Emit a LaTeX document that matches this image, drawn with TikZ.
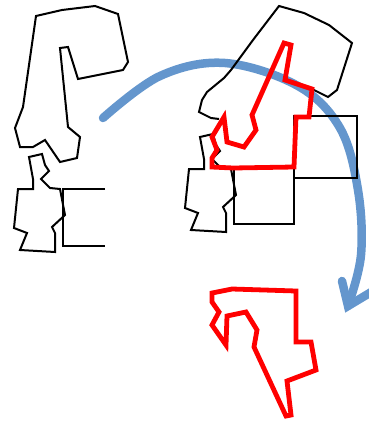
\documentclass[tikz,border=0pt]{standalone}
\definecolor{arcblue}{RGB}{100,150,205}
\definecolor{mapred}{RGB}{255,0,0}
\tikzset{
  mapline/.style={draw=black,line width=2pt,line join=miter},
  redline/.style={draw=mapred,line width=4.8pt,line join=miter,miter limit=4},
  bluearc/.style={draw=arcblue,line width=8.5pt,line cap=round,line join=round}
}
\begin{document}
\begin{tikzpicture}[x=1pt,y=-1pt]
\useasboundingbox (0,0) rectangle (368,421);
% blue rotation arrow
\draw[bluearc] plot[smooth,tension=0.6] coordinates {(103,118) (160,76) (225,63) (298,86) (340,128) (358,190) (361,255) (348,306)};
\draw[bluearc,line join=miter] (342,281) -- (348,306) -- (373,291);
% left: top shape
\draw[mapline] (36,16) -- (62,10) -- (95,6) -- (118,14) -- (128,62) -- (123,70) -- (78,79) -- (68,47) -- (60,48) -- (68,127) -- (80,137) -- (77,158) -- (60,162) -- (45,140) -- (33,147) -- (20,147) -- (15,128) -- (23,107) -- cycle;
% left: head and body
\draw[mapline] (33,179) -- (29,157) -- (42,154) -- (45,165) -- (49,171) -- (41,179) -- (50,188) -- (60,189) -- (65,215) -- (52,227) -- (55,233) -- (55,252) -- (20,250) -- (27,233) -- (14,228) -- (18,189) -- (33,189) -- cycle;
% left: open rectangle
\draw[mapline] (105,189) -- (63,189) -- (63,246) -- (105,246);
% right: top shape (visible part)
\draw[mapline] (219,119) -- (211,118) -- (199,112) -- (202,100) -- (207,92) -- (224,78) -- (231,70) -- (253,40) -- (279,6) -- (304,13) -- (329,25) -- (352,43) -- (337,90) -- (328,97) -- (312,89);
% right: head and body
\begin{scope}[shift={(171,-20)}]
\draw[mapline] (33,179) -- (29,157) -- (42,154) -- (45,165) -- (49,171) -- (41,179) -- (50,188) -- (60,189) -- (65,215) -- (52,227) -- (55,233) -- (55,252) -- (20,250) -- (27,233) -- (14,228) -- (18,189) -- (33,189) -- cycle;
\end{scope}
% right: rectangles
\draw[mapline] (234,168) rectangle (294,224);
\draw[mapline] (294,116) rectangle (357,178);
% red shape, overlapping
\draw[redline] (284,43) -- (291,45) -- (285,80) -- (312,89) -- (309,117) -- (296,117) -- (294,167) -- (233,168) -- (212,167) -- (212,158) -- (217,150) -- (212,137) -- (224,117) -- (227,142) -- (244,147) -- (256,130) -- (252,115) -- cycle;
% red shape, rotated result
\draw[redline] (212,293) -- (232,289) -- (296,291) -- (296,342) -- (311,342) -- (316,370) -- (287,381) -- (291,415) -- (286,416) -- (254,347) -- (257,330) -- (246,312) -- (227,316) -- (226,345) -- (212,325) -- (219,312) -- (212,302) -- cycle;
\end{tikzpicture}
\end{document}
